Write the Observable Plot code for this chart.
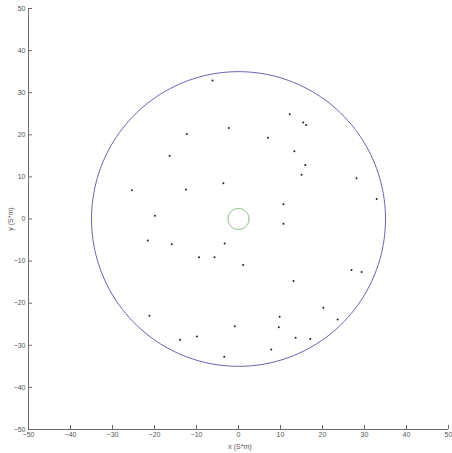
<!DOCTYPE html>
<html>
<head>
<meta charset="utf-8">
<script src="https://cdn.jsdelivr.net/npm/d3@7"></script>
<script src="https://cdn.jsdelivr.net/npm/@observablehq/plot@0.6"></script>
<style>
  html, body { margin: 0; padding: 0; background: #fff; }
  #chart svg { display: block; }
</style>
</head>
<body>
<div id="chart"></div>
<script>
// Node positions (S*m units)
const nodeX = [-6.2, -12.3, -2.3, 12.2, 15.4, 16.1, 7.0, -16.4, 13.3, 15.9,
               15.0, 28.1, -25.4, -12.5, -3.6, 32.9, 10.7, -19.9, 10.7, -21.6,
               -15.9, -3.3, -9.4, -5.7, 1.1, 26.9, 29.3, 13.1, -21.2, 20.2,
               9.8, 9.6, -0.9, 23.6, -13.9, -9.9, 13.6, 17.1, 7.8, -3.4];
const nodeY = [32.9, 20.2, 21.6, 24.9, 22.9, 22.3, 19.3, 15.0, 16.1, 12.8,
               10.5, 9.7, 6.8, 7.0, 8.5, 4.75, 3.5, 0.8, -1.1, -5.1,
               -6.0, -5.8, -9.1, -9.1, -10.9, -12.1, -12.6, -14.7, -23.0, -21.1,
               -23.2, -25.7, -25.5, -23.9, -28.7, -27.9, -28.2, -28.5, -31.0, -32.7];

// Boundary circles: coverage area and central sink
const outerRadius = 35;
const innerRadius = 2.5;
const ticks = [-50, -40, -30, -20, -10, 0, 10, 20, 30, 40, 50];

const nodes = nodeX.map((x, i) => ({x, y: nodeY[i]}));

function ring(r) {
  return d3.range(0, 361, 2).map(a => ({
    x: r * Math.cos(a * Math.PI / 180),
    y: r * Math.sin(a * Math.PI / 180)
  }));
}

const axisColor = "#6b6b6b";
const font = "'Liberation Sans', Arial, sans-serif";

const chart = Plot.plot({
  width: 452,
  height: 453,
  marginLeft: 28,
  marginRight: 4,
  marginTop: 8,
  marginBottom: 24,
  style: { fontFamily: font, fontSize: "7px", color: "#444", background: "#fff" },
  x: { domain: [-50, 50], label: null },
  y: { domain: [-50, 50], label: null },
  marks: [
    Plot.ruleX([-50], { stroke: axisColor, strokeWidth: 1 }),
    Plot.ruleY([-50], { stroke: axisColor, strokeWidth: 1 }),
    Plot.axisX({ ticks, tickSize: -4, tickPadding: 7, stroke: axisColor, fill: "#555", fontSize: 7 }),
    Plot.axisY({ ticks, tickSize: -4, tickPadding: 7, stroke: axisColor, fill: "#555", fontSize: 7 }),
    Plot.line(ring(outerRadius), { x: "x", y: "y", stroke: "#6666b0", strokeWidth: 1 }),
    Plot.line(ring(innerRadius), { x: "x", y: "y", stroke: "#78b078", strokeWidth: 1 }),
    Plot.dot(nodes, { x: "x", y: "y", r: 1, fill: "#222", stroke: null })
  ]
});

// Axis titles
const svg = d3.select(chart);
svg.append("text")
  .attr("x", 240).attr("y", 449)
  .attr("text-anchor", "middle")
  .attr("font-size", 7).attr("fill", "#555")
  .attr("font-family", font)
  .text("x (S*m)");
svg.append("text")
  .attr("transform", "translate(13,219) rotate(-90)")
  .attr("text-anchor", "middle")
  .attr("font-size", 7).attr("fill", "#555")
  .attr("font-family", font)
  .text("y (S*m)");

document.getElementById("chart").appendChild(chart);
</script>
</body>
</html>
